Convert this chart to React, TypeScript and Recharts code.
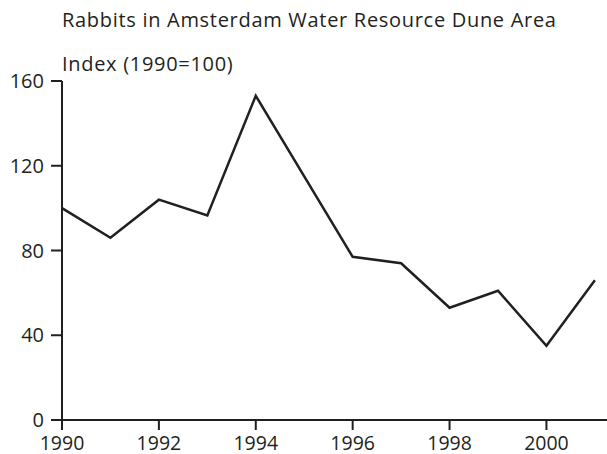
import * as React from 'react';
import { LineChart, Line, XAxis, YAxis } from 'recharts';

const years: number[] = [1990, 1991, 1992, 1993, 1994, 1995, 1996, 1997, 1998, 1999, 2000, 2001];
const rabbitIndex: number[] = [100, 86, 104, 96.5, 153, 115, 77, 74, 53, 61, 35, 66];
const xTicks: number[] = [1990, 1992, 1994, 1996, 1998, 2000];
const yTicks: number[] = [0, 40, 80, 120, 160];

const title = 'Rabbits in Amsterdam Water Resource Dune Area';
const unitLabel = 'Index (1990=100)';

const ink = '#231f20';
const font = '"Open Sans", "Noto Sans", sans-serif';

const data = years.map((y, i) => ({ year: y, value: rabbitIndex[i] }));

const headStyle: React.CSSProperties = {
  position: 'absolute',
  left: 62,
  fontSize: 20,
  lineHeight: 1,
  letterSpacing: 0.7,
  color: ink,
  whiteSpace: 'nowrap',
};

const App = () => {
  return (
    <div style={{ position: 'absolute', left: 0, top: 0, width: 607, height: 454, background: '#fff', fontFamily: font }}>
      <div style={{ ...headStyle, top: 10 }}>{title}</div>
      <div style={{ ...headStyle, top: 54 }}>{unitLabel}</div>
      <LineChart
        width={607}
        height={454}
        data={data}
        margin={{ top: 81, right: 0, left: 0, bottom: 0 }}
        style={{ overflow: 'visible' }}
      >
        <XAxis
          dataKey="year"
          type="number"
          domain={[1990, 2001.25]}
          ticks={xTicks}
          height={34}
          tickSize={10}
          tickMargin={6}
          stroke={ink}
          strokeWidth={2}
          tick={{ fill: ink, fontSize: 19.5, fontFamily: font }}
          interval={0}
        />
        <YAxis
          type="number"
          domain={[0, 160]}
          ticks={yTicks}
          width={62}
          tickSize={11}
          tickMargin={7}
          stroke={ink}
          strokeWidth={2}
          tick={{ fill: ink, fontSize: 20, fontFamily: font }}
          interval={0}
        />
        <Line
          type="linear"
          dataKey="value"
          stroke={ink}
          strokeWidth={2.5}
          dot={false}
          isAnimationActive={false}
        />
      </LineChart>
    </div>
  );
};

export default App;
